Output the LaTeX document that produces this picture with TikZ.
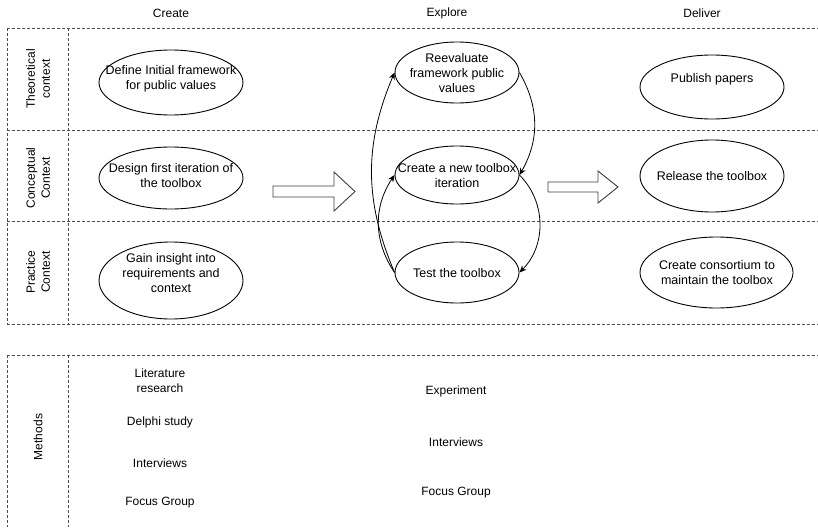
\documentclass[tikz,border=0pt]{standalone}
\usepackage{fontspec}
\setmainfont{Liberation Sans}
\usetikzlibrary{shapes.geometric,arrows.meta}
\begin{document}
\begin{tikzpicture}[x=1pt,y=-1pt,
  lane/.style={draw=black!70, line width=0.8pt, dash pattern=on 3pt off 2pt},
  oval/.style={draw=black, line width=0.9pt, ellipse, inner sep=0pt},
  txt/.style={align=center, font=\fontsize{12.5}{15}\selectfont, inner sep=0pt},
  colhead/.style={font=\fontsize{12}{14}\selectfont, inner sep=0pt},
  side/.style={rotate=90, align=center, font=\fontsize{12}{15}\selectfont, inner sep=0pt},
  meth/.style={align=center, font=\fontsize{12}{15}\selectfont, inner sep=0pt},
  flow/.style={draw=black, line width=0.8pt, -{Stealth[length=7pt,width=6pt]}},
  bigarrow/.style={draw=black!75, line width=0.9pt, fill=white, line join=miter},
]
\useasboundingbox (0,0) rectangle (818,527);

% column headers
\node[colhead] (h-create)  at (171,13) {Create};
\node[colhead] (h-explore) at (447,13) {Explore};
\node[colhead] (h-deliver) at (702,13) {Deliver};

% swimlane grid
\draw[lane] (7,28) -- (818,28);
\draw[lane] (7,130) -- (818,130);
\draw[lane] (7,221) -- (818,221);
\draw[lane] (7,324) -- (818,324);
\draw[lane] (7,28) -- (7,324);
\draw[lane] (68,28) -- (68,324);

% methods lane
\draw[lane] (7,355) -- (818,355);
\draw[lane] (7,355) -- (7,527);
\draw[lane] (68,355) -- (68,527);

% lane titles
\node[side] (l-theo) at (38,79)  {Theoretical\\context};
\node[side] (l-conc) at (38,178) {Conceptual\\Context};
\node[side] (l-prac) at (38,272) {Practice\\Context};
\node[side] (l-meth) at (38,437) {Methods};

% Create column
\node[oval, minimum width=144, minimum height=65] (define) at (171,82.5) {};
\node[txt] (define-t) at (171,79) {Define Initial framework\\for public values};
\node[oval, minimum width=144, minimum height=62] (design) at (171,178) {};
\node[txt] (design-t) at (171,176) {Design first iteration of\\the toolbox};
\node[oval, minimum width=144, minimum height=77] (gain) at (171,280.5) {};
\node[txt] (gain-t) at (171,273) {Gain insight into\\requirements and\\context};

% Explore column
\node[oval, minimum width=124, minimum height=61] (reeval) at (457,72.5) {};
\node[txt] (reeval-t) at (457,73) {Reevaluate\\framework public\\values};
\node[oval, minimum width=124, minimum height=58] (newtb) at (457,175) {};
\node[txt] (newtb-t) at (457,176) {Create a new toolbox\\iteration};
\node[oval, minimum width=124, minimum height=61] (test) at (457,272.5) {};
\node[txt] (test-t) at (457,273) {Test the toolbox};

% Deliver column
\node[oval, minimum width=144, minimum height=64] (publish) at (712,87) {};
\node[txt] (publish-t) at (712,79) {Publish papers};
\node[oval, minimum width=144, minimum height=72] (release) at (712,176) {};
\node[txt] (release-t) at (712,176) {Release the toolbox};
\node[oval, minimum width=153, minimum height=71] (consort) at (716.5,272.5) {};
\node[txt] (consort-t) at (717,272.5) {Create consortium to\\maintain the toolbox};

% iteration loop
\draw[flow] (reeval.east) to[out=-60,in=60] (newtb.east);
\draw[flow] (newtb.east) to[out=-45,in=45] (test.east);
\draw[flow] (test.west) to[out=113,in=-113] (reeval.west);
\draw[flow] (test.west) to[out=124,in=-124] (newtb.west);

% phase transitions
\draw[bigarrow] (273,186) -- (334,186) -- (334,172) -- (355,191.5) -- (334,211) -- (334,197) -- (273,197) -- cycle;
\draw[bigarrow] (548,182) -- (598,182) -- (598,171) -- (618,187) -- (598,203) -- (598,192) -- (548,192) -- cycle;

% methods per phase
\node[meth] (m-lit)   at (160,380.5) {Literature\\research};
\node[meth] (m-delph) at (160,422) {Delphi study};
\node[meth] (m-int1)  at (160,463) {Interviews};
\node[meth] (m-foc1)  at (160,503) {Focus Group};
\node[meth] (m-exp)   at (456,391) {Experiment};
\node[meth] (m-int2)  at (456,442) {Interviews};
\node[meth] (m-foc2)  at (456,493) {Focus Group};
\end{tikzpicture}
\end{document}
